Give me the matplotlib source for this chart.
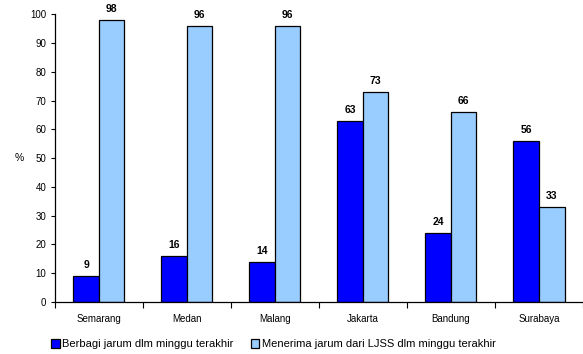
import numpy as np
import matplotlib.pyplot as plt
from matplotlib.ticker import FixedLocator, NullFormatter

# City survey results: share of respondents (%)
cities = ['Semarang', 'Medan', 'Malang', 'Jakarta', 'Bandung', 'Surabaya']
shared = [9, 16, 14, 63, 24, 56]
received = [98, 96, 96, 73, 66, 33]
series_names = ['Berbagi jarum dlm minggu terakhir',
                'Menerima jarum dari LJSS dlm minggu terakhir']

plt.rcParams['font.family'] = ['Liberation Sans', 'DejaVu Sans']

fig = plt.figure(figsize=(5.83, 3.54), dpi=100)
ax = fig.add_axes([0.094, 0.147, 0.906, 0.813])

x = np.arange(len(cities))
w = 0.29
b1 = ax.bar(x - w / 2, shared, w, color='#0000FF', edgecolor='black',
            linewidth=0.9, label=series_names[0])
b2 = ax.bar(x + w / 2, received, w, color='#99CCFF', edgecolor='black',
            linewidth=0.9, label=series_names[1])

for bars, vals in ((b1, shared), (b2, received)):
    for r, v in zip(bars, vals):
        ax.text(r.get_x() + r.get_width() / 2, v + 2, f'{v}',
                ha='center', va='bottom', fontsize=7.5, fontweight='bold')

ax.set_xlim(-0.5, len(cities) - 0.5)
ax.set_ylim(0, 100)
ax.set_yticks(range(0, 101, 10))
ax.tick_params(axis='y', labelsize=7, length=3, width=0.8, pad=3)

# category boundaries get tick marks, names sit between them
ax.xaxis.set_major_locator(FixedLocator(np.arange(-0.5, len(cities), 1)))
ax.xaxis.set_major_formatter(NullFormatter())
ax.xaxis.set_minor_locator(FixedLocator(x))
ax.set_xticklabels(cities, minor=True)
ax.tick_params(axis='x', which='major', length=4, width=0.8)
ax.tick_params(axis='x', which='minor', length=0, labelsize=7, pad=9)

for side in ('top', 'right'):
    ax.spines[side].set_visible(False)
ax.spines['left'].set_linewidth(0.9)
ax.spines['bottom'].set_linewidth(0.9)

ax.set_ylabel('%', rotation=0, fontsize=7.5, labelpad=8, va='center')

ax.legend(loc='lower left', bbox_to_anchor=(-0.015, -0.18), ncol=2,
          frameon=False, fontsize=8, handlelength=0.75, handleheight=0.75,
          handletextpad=0.2, columnspacing=1.6, borderaxespad=0)

fig.savefig('out.png', dpi=100)
